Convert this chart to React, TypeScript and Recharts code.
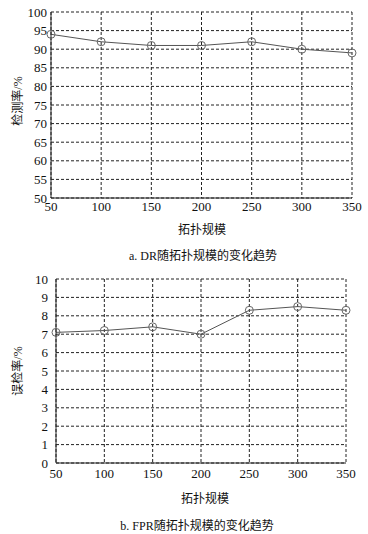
import React from 'react';
import { LineChart, Line, XAxis, YAxis, CartesianGrid } from 'recharts';

const scales = [50, 100, 150, 200, 250, 300, 350];
const drValues = [94, 92, 91, 91, 92, 90, 89];
const fprValues = [7.1, 7.2, 7.4, 7.0, 8.3, 8.5, 8.3];
const drTicks = [50, 55, 60, 65, 70, 75, 80, 85, 90, 95, 100];
const fprTicks = [0, 1, 2, 3, 4, 5, 6, 7, 8, 9, 10];

const drData = scales.map((s, i) => ({ scale: s, value: drValues[i] }));
const fprData = scales.map((s, i) => ({ scale: s, value: fprValues[i] }));

const FONT = '"Liberation Serif", "Times New Roman", "Noto Sans CJK SC", serif';
const tickStyle = { fontFamily: FONT, fontSize: 13, fill: '#111' };

const Dot = (props: any) => {
  const { cx, cy, index } = props;
  return <circle key={index} cx={cx} cy={cy} r={4} fill="none" stroke="#666" strokeWidth={1} />;
};

const textStyle: React.CSSProperties = {
  position: 'absolute',
  fontFamily: FONT,
  fontSize: 12,
  color: '#111',
  whiteSpace: 'nowrap',
  transform: 'translate(-50%, -50%)',
};

const rotStyle: React.CSSProperties = {
  ...textStyle,
  transform: 'translate(-50%, -50%) rotate(-90deg)',
};

export default function App() {
  return (
    <div style={{ position: 'absolute', left: 0, top: 0, width: 368, height: 534, background: '#fff' }}>
      <div style={{ position: 'absolute', left: 0, top: 0 }}>
        <LineChart width={368} height={230} data={drData} margin={{ top: 12, right: 16, left: 0, bottom: 0 }}>
          <CartesianGrid stroke="#222" strokeDasharray="3 2" />
          <XAxis
            dataKey="scale"
            type="number"
            domain={[50, 350]}
            ticks={scales}
            tickSize={0}
            tickMargin={4}
            height={32}
            stroke="#222"
            tick={tickStyle}
            interval={0}
          />
          <YAxis
            type="number"
            domain={[50, 100]}
            ticks={drTicks}
            tickSize={0}
            tickMargin={4}
            width={51}
            stroke="#222"
            tick={tickStyle}
            interval={0}
          />
          <Line dataKey="value" stroke="#555" strokeWidth={1} dot={<Dot />} isAnimationActive={false} />
        </LineChart>
      </div>
      <div style={{ ...rotStyle, left: 17, top: 101 }}>检测率/%</div>
      <div style={{ ...textStyle, left: 202, top: 229 }}>拓扑规模</div>
      <div style={{ ...textStyle, left: 203, top: 255 }}>a. DR随拓扑规模的变化趋势</div>

      <div style={{ position: 'absolute', left: 0, top: 265 }}>
        <LineChart width={368} height={228} data={fprData} margin={{ top: 14, right: 22, left: 0, bottom: 0 }}>
          <CartesianGrid stroke="#222" strokeDasharray="3 2" />
          <XAxis
            dataKey="scale"
            type="number"
            domain={[50, 350]}
            ticks={scales}
            tickSize={0}
            tickMargin={6}
            height={30}
            stroke="#222"
            tick={tickStyle}
            interval={0}
          />
          <YAxis
            type="number"
            domain={[0, 10]}
            ticks={fprTicks}
            tickSize={0}
            tickMargin={8}
            width={56}
            stroke="#222"
            tick={tickStyle}
            interval={0}
          />
          <Line dataKey="value" stroke="#555" strokeWidth={1} dot={<Dot />} isAnimationActive={false} />
        </LineChart>
      </div>
      <div style={{ ...rotStyle, left: 17, top: 371 }}>误检率/%</div>
      <div style={{ ...textStyle, left: 205, top: 498 }}>拓扑规模</div>
      <div style={{ ...textStyle, left: 197, top: 525 }}>b. FPR随拓扑规模的变化趋势</div>
    </div>
  );
}
